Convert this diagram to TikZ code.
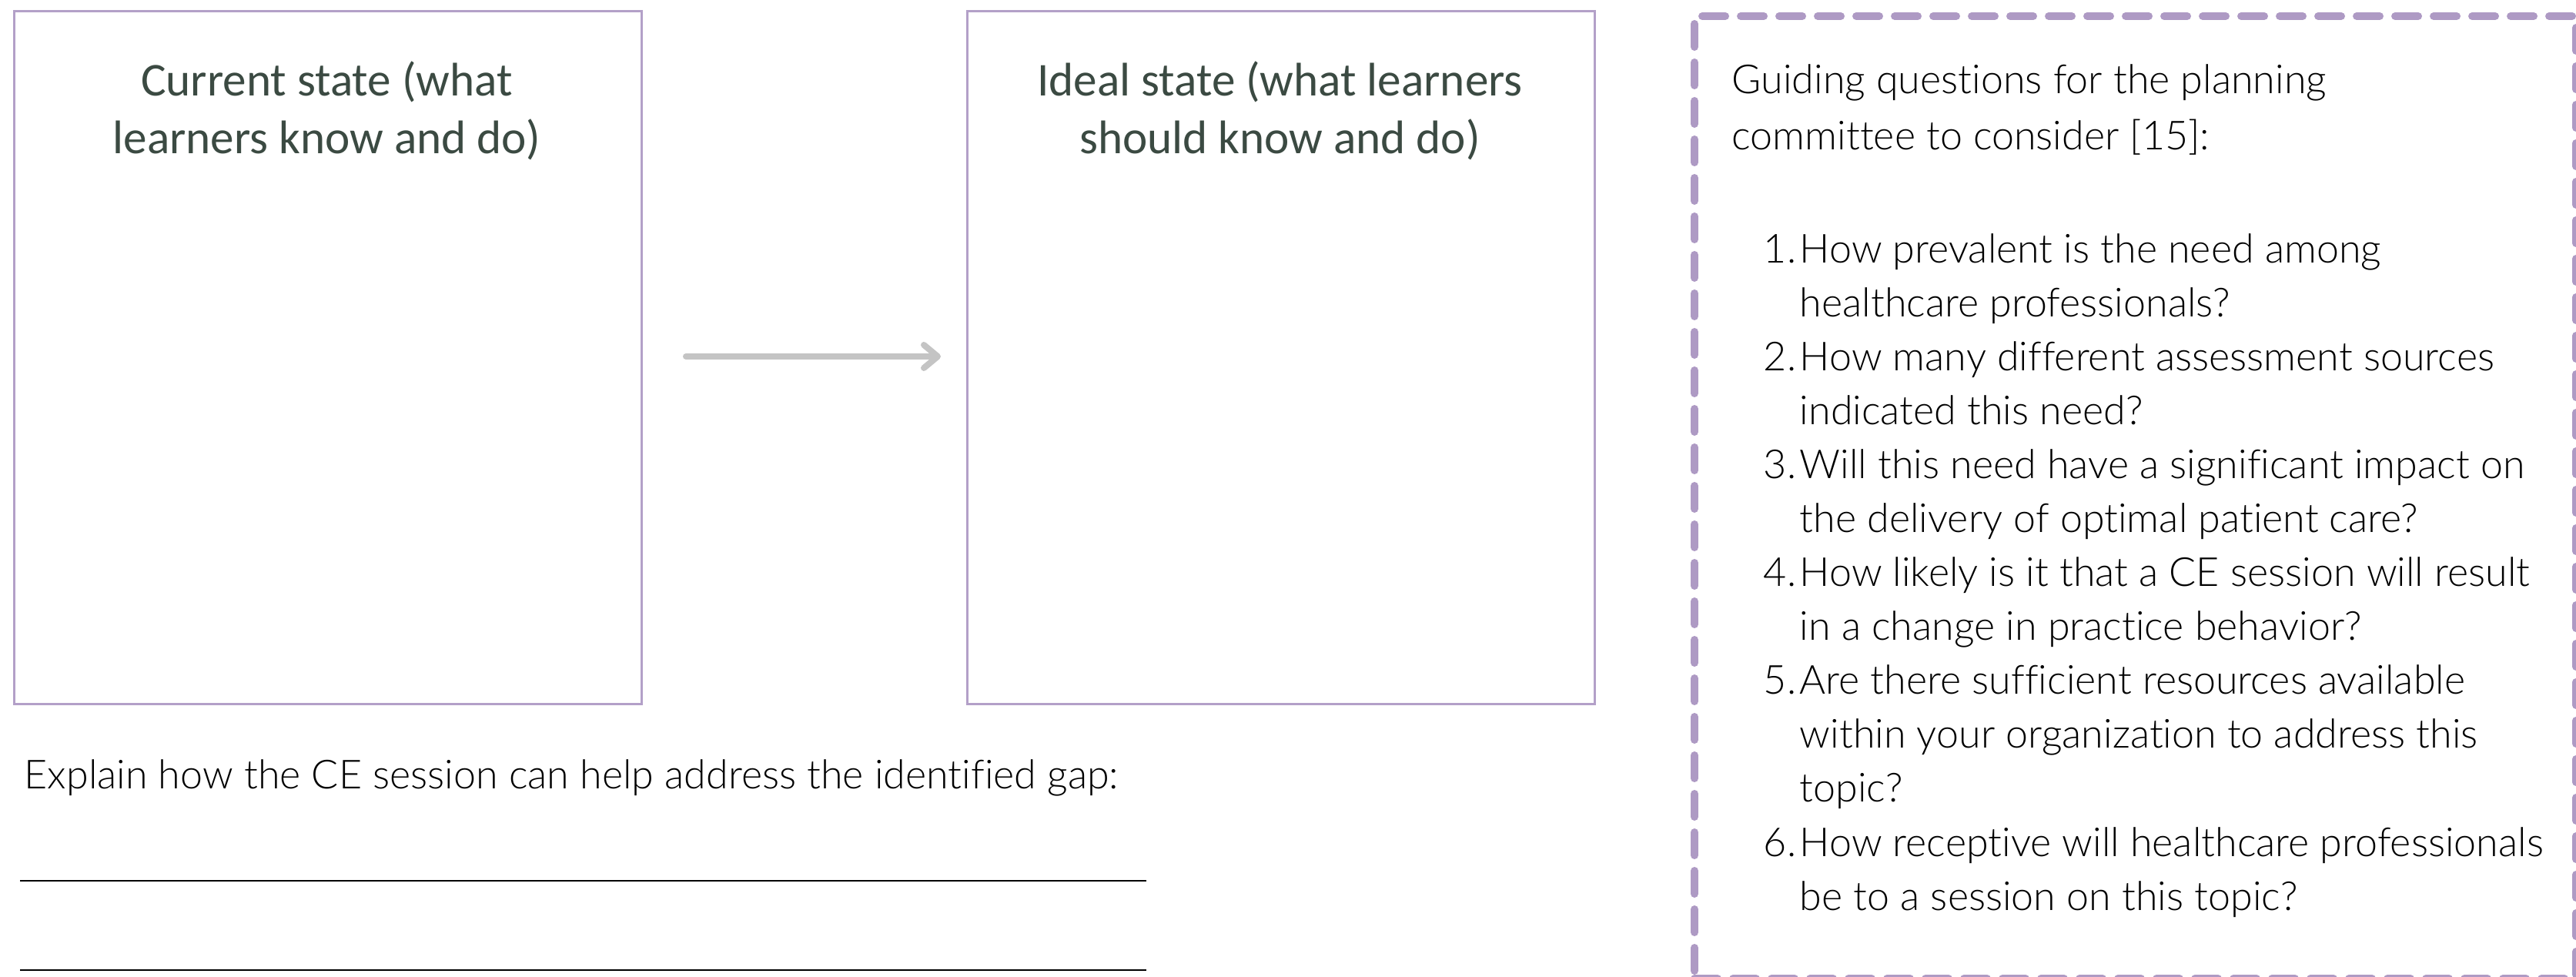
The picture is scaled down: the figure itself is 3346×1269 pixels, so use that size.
\documentclass[tikz,border=0pt]{standalone}
\usepackage{fontspec}
\setmainfont{Carlito}
\newfontfamily\bodyfont{Lato Light}[Ligatures=NoCommon]
\usetikzlibrary{arrows.meta}
\definecolor{boxpurple}{HTML}{B3A0C8}
\definecolor{dashpurple}{HTML}{AE9AC4}
\definecolor{headgreen}{HTML}{3B4A42}
\definecolor{arrowgray}{HTML}{C4C4C4}
\begin{document}
\begin{tikzpicture}[x=0.25pt,y=-0.25pt,
  statebox/.style={draw=boxpurple, line width=0.75pt, minimum width=203.75pt, minimum height=225pt, anchor=north west, inner sep=0pt},
  qboxstyle/.style={draw=dashpurple, line width=2.5pt, dash pattern=on 7.5pt off 5pt, line cap=round, minimum width=286.25pt, minimum height=312.5pt, anchor=north west, inner sep=0pt},
  headtext/.style={font=\fontsize{15.3pt}{18pt}\selectfont, text=headgreen, anchor=base, inner sep=0pt},
  bodytext/.style={font=\bodyfont\fontsize{13pt}{16pt}\selectfont, text=black, anchor=base west, inner sep=0pt},
  numtext/.style={font=\bodyfont\fontsize{13pt}{16pt}\selectfont, text=black, anchor=base east, inner sep=0pt},
  gaparrow/.style={draw=arrowgray, line width=2pt, line cap=round, -{Straight Barb[length=4.5pt, width=7.5pt, line cap=round, line join=round]}},
  writeline/.style={draw=black, line width=0.6pt}
]
\useasboundingbox (0,0) rectangle (3346,1269);

% state boxes
\node[statebox] (cur) at (17,13) {};
\node[statebox] (ideal) at (1255,13) {};
\node[headtext] (cur1) at (424.5,125) {Current state (what};
\node[headtext] (cur2) at (424.5,200) {learners know and do)};
\node[headtext] (ideal1) at (1662.5,125) {Ideal state (what learners};
\node[headtext] (ideal2) at (1662.5,200) {should know and do)};

% arrow
\coordinate (arrS) at (891,463);
\coordinate (arrE) at (1222,463);
\draw[gaparrow] (arrS) -- (arrE);

% explanation
\node[bodytext] (explain) at (31,1025) {Explain how the CE session can help address the identified gap:};
\coordinate (l1a) at (26,1144);
\coordinate (l1b) at (1489,1144);
\coordinate (l2a) at (26,1260);
\coordinate (l2b) at (1489,1260);
\draw[writeline] (l1a) -- (l1b);
\draw[writeline] (l2a) -- (l2b);

% guiding questions box
\node[qboxstyle] (qbox) at (2196,16) {};
\node[bodytext] (g1) at (2249,122) {Guiding questions for the planning};
\node[bodytext] (g2) at (2249,195) {committee to consider [15]:};

\node[numtext] (n1) at (2334,342) {1.};
\node[bodytext] (q1a) at (2337,342) {How prevalent is the need among};
\node[bodytext] (q1b) at (2337,412) {healthcare professionals?};
\node[numtext] (n2) at (2334,482) {2.};
\node[bodytext] (q2a) at (2337,482) {How many different assessment sources};
\node[bodytext] (q2b) at (2337,552) {indicated this need?};
\node[numtext] (n3) at (2334,622) {3.};
\node[bodytext] (q3a) at (2337,622) {Will this need have a significant impact on};
\node[bodytext] (q3b) at (2337,692) {the delivery of optimal patient care?};
\node[numtext] (n4) at (2334,762) {4.};
\node[bodytext] (q4a) at (2337,762) {How likely is it that a CE session will result};
\node[bodytext] (q4b) at (2337,832) {in a change in practice behavior?};
\node[numtext] (n5) at (2334,902) {5.};
\node[bodytext] (q5a) at (2337,902) {Are there sufficient resources available};
\node[bodytext] (q5b) at (2337,972) {within your organization to address this};
\node[bodytext] (q5c) at (2337,1042) {topic?};
\node[numtext] (n6) at (2334,1112) {6.};
\node[bodytext] (q6a) at (2337,1112) {How receptive will healthcare professionals};
\node[bodytext] (q6b) at (2337,1182) {be to a session on this topic?};
\end{tikzpicture}
\end{document}
